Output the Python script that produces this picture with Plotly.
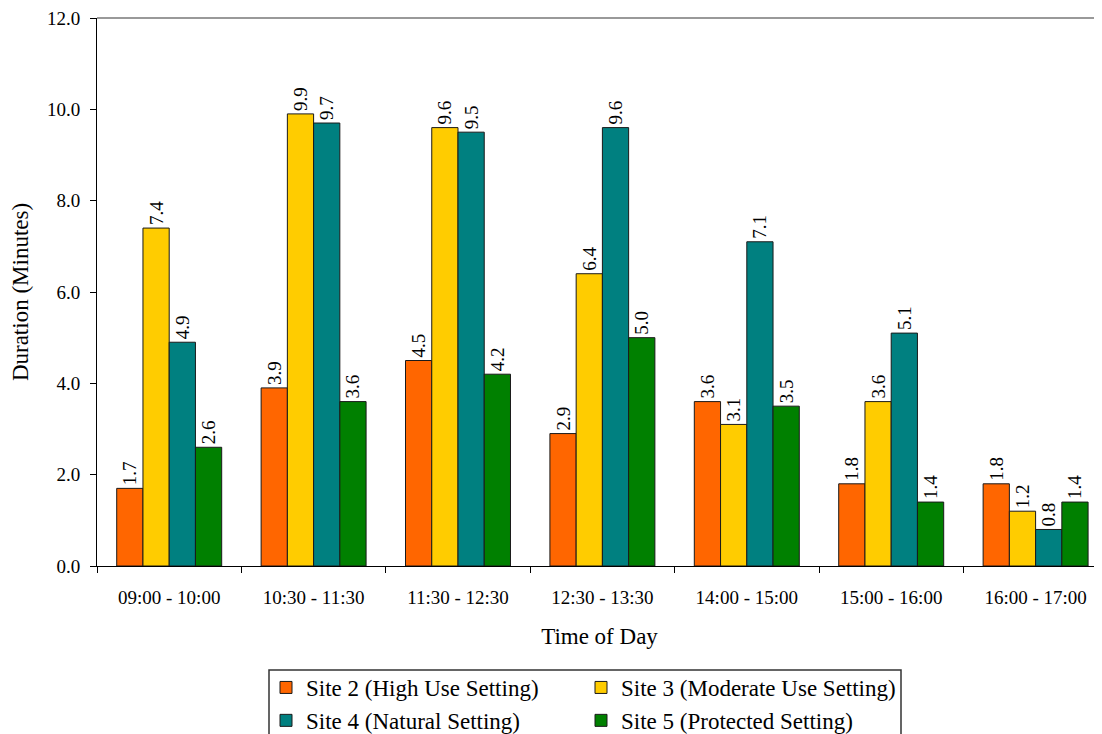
import plotly.graph_objects as go

categories = ["09:00 - 10:00", "10:30 - 11:30", "11:30 - 12:30", "12:30 - 13:30",
              "14:00 - 15:00", "15:00 - 16:00", "16:00 - 17:00"]
site2 = [1.7, 3.9, 4.5, 2.9, 3.6, 1.8, 1.8]
site3 = [7.4, 9.9, 9.6, 6.4, 3.1, 3.6, 1.2]
site4 = [4.9, 9.7, 9.5, 9.6, 7.1, 5.1, 0.8]
site5 = [2.6, 3.6, 4.2, 5.0, 3.5, 1.4, 1.4]

series_names = ["Site 2 (High Use Setting)", "Site 3 (Moderate Use Setting)",
                "Site 4 (Natural Setting)", "Site 5 (Protected Setting)"]
series_values = [site2, site3, site4, site5]
colors = ["#FF6600", "#FFCC00", "#008080", "#008000"]
legend_ids = ["legend", "legend2", "legend", "legend2"]

SERIF = "Liberation Serif, Times New Roman, serif"
fig = go.Figure()
for name, vals, col, lg in zip(series_names, series_values, colors, legend_ids):
    fig.add_trace(go.Bar(
        x=categories, y=vals, name=name,
        marker=dict(color=col, line=dict(color="#1a1a1a", width=1)),
        text=[f"{v:.1f}" for v in vals], textposition="outside", textangle=-90,
        textfont=dict(family=SERIF, size=19, color="black"),
        constraintext="none", cliponaxis=False, legend=lg,
    ))

# page has an 8px body margin; figure coordinates are page coordinates minus 8
OFF = 8
W, H = 1102 - OFF, 734 - OFF
L = 97 - OFF
T = 18 - OFF
B = H - (566 - OFF)
R = 0
pw = W - L - R
ph = H - T - B

def px_x(page_px):
    return (page_px - OFF - L) / pw

def px_y(page_py):
    return (H - B - (page_py - OFF)) / ph

legend_common = dict(xanchor="left", yanchor="top", orientation="v", borderwidth=0,
                     bgcolor="rgba(0,0,0,0)", tracegroupgap=0,
                     font=dict(family=SERIF, size=23, color="black"))

fig.update_layout(
    width=W, height=H,
    margin=dict(l=L, r=R, t=T, b=B, autoexpand=False),
    paper_bgcolor="white", plot_bgcolor="white",
    barmode="group", bargap=0.273, bargroupgap=0,
    font=dict(family=SERIF, size=23, color="black"),
    showlegend=True,
    legend=dict(x=px_x(266), y=px_y(666), **legend_common),
    legend2=dict(x=px_x(581), y=px_y(666), **legend_common),
    xaxis=dict(
        type="category", range=[-0.5, -0.5 + pw / 144.4], automargin=False,
        showline=True, linecolor="black", linewidth=1,
        ticks="outside", tickson="boundaries", ticklen=6, tickcolor="black",
        tickfont=dict(family=SERIF, size=19, color="black"),
        ticklabelstandoff=14,
        title=dict(text="Time of Day", standoff=21,
                   font=dict(family=SERIF, size=23, color="black")),
        showgrid=False, zeroline=False,
    ),
    yaxis=dict(
        range=[0, 12], dtick=2, tickformat=".1f", automargin=False,
        showline=True, linecolor="black", linewidth=1,
        ticks="outside", ticklen=6, tickcolor="black",
        tickfont=dict(family=SERIF, size=19, color="black"),
        ticklabelstandoff=6, ticklabeloverflow="allow",
        title=dict(text="Duration (Minutes)", standoff=13,
                   font=dict(family=SERIF, size=23, color="black")),
        showgrid=False, zeroline=False,
    ),
    shapes=[
        dict(type="line", xref="paper", yref="paper", x0=0, x1=1.01, y0=1, y1=1,
             line=dict(color="#999999", width=2)),
        dict(type="rect", xref="paper", yref="paper",
             x0=px_x(269), x1=px_x(901), y0=px_y(745), y1=px_y(670),
             line=dict(color="#333333", width=1.5), fillcolor="rgba(0,0,0,0)"),
    ],
)

fig.write_html("out.html")
